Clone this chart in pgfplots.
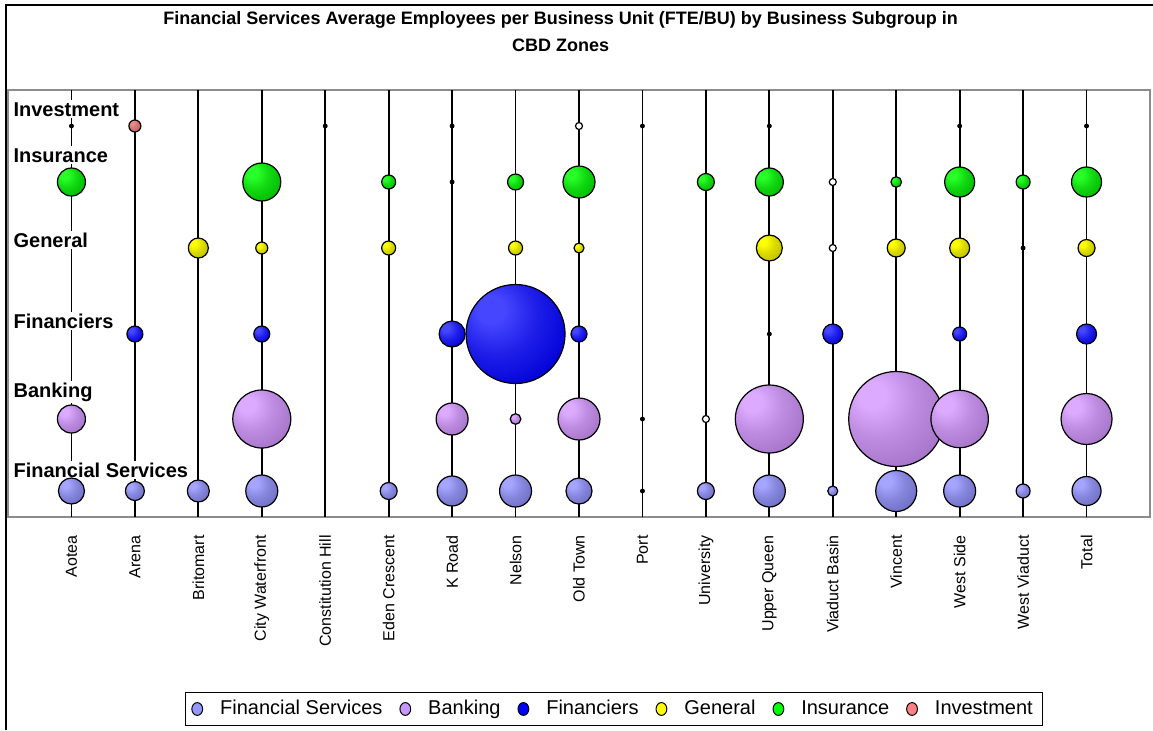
\documentclass[border=0pt]{standalone}
\usepackage{pgfplots}
\usepackage{pgfplotstable}
\pgfplotsset{compat=1.18}
\usepackage{fontspec}
\setmainfont{Liberation Sans}

% bubble colours: highlight / body
\definecolor{fshi}{RGB}{165,165,255}
\definecolor{fslo}{RGB}{110,110,195}
\definecolor{bkhi}{RGB}{220,170,255}
\definecolor{bklo}{RGB}{165,115,200}
\definecolor{fnhi}{RGB}{70,70,255}
\definecolor{fnlo}{RGB}{0,0,215}
\definecolor{gnhi}{RGB}{255,255,0}
\definecolor{gnlo}{RGB}{190,190,0}
\definecolor{inhi}{RGB}{40,255,40}
\definecolor{inlo}{RGB}{0,185,0}
\definecolor{ivhi}{RGB}{235,140,140}
\definecolor{ivlo}{RGB}{190,95,95}
% legend colours
\definecolor{fsleg}{RGB}{150,150,255}
\definecolor{bkleg}{RGB}{200,150,250}
\definecolor{fnleg}{RGB}{0,0,255}
\definecolor{gnleg}{RGB}{255,255,0}
\definecolor{inleg}{RGB}{0,255,0}
\definecolor{ivleg}{RGB}{255,130,130}
\colorlet{bubhi}{fshi}
\colorlet{bublo}{fslo}

\pgfdeclareradialshading[bubhi,bublo]{bubsh}{\pgfpoint{-14bp}{14bp}}{%
  color(0bp)=(bubhi); color(7bp)=(bubhi); color(20bp)=(bubhi!45!bublo);
  color(36bp)=(bublo); color(58bp)=(bublo!82!black); color(70bp)=(bublo!82!black)}

\newcommand\defbub[3]{%
  \pgfdeclareplotmark{#1}{%
    \colorlet{bubhi}{#2}\colorlet{bublo}{#3}%
    \pgfpathcircle{\pgfpointorigin}{\pgfplotmarksize}%
    \pgfshadepath{bubsh}{0}%
    \pgfsetstrokecolor{black}%
    \pgfpathcircle{\pgfpointorigin}{\pgfplotmarksize}%
    \pgfusepathqstroke}}
\defbub{bubFS}{fshi}{fslo}
\defbub{bubBK}{bkhi}{bklo}
\defbub{bubFN}{fnhi}{fnlo}
\defbub{bubGN}{gnhi}{gnlo}
\defbub{bubIN}{inhi}{inlo}
\defbub{bubIV}{ivhi}{ivlo}

% x = zone index, y = row, r = bubble radius
\pgfplotstableread{
x y r
0 26 13
1 26 9.5
2 26 11
3 26 16
5 26 8.5
6 26 15
7 26 16
8 26 13
10 26 8.5
11 26 16
12 26 5
13 26 20.5
14 26 16
15 26 7
16 26 14.5
}\fstab
\pgfplotstableread{
x y r
0 98 14
3 98 29
6 98 16
7 98 5.3
8 98 21
11 98 34
13 98 47.5
14 98 28.7
16 98 25.5
}\bktab
\pgfplotstableread{
x y r
1 183 8
3 183 8
6 183 13
7 183 49.5
8 183 8
12 183 10
14 183 7
16 183 10
}\fntab
\pgfplotstableread{
x y r
2 269 10
3 269 6
5 269 7
7 269 7
8 269 5
11 269 13
13 269 9
14 269 10
16 269 8.5
}\gntab
\pgfplotstableread{
x y r
0 335 14
3 335 19
5 335 7
7 335 8
8 335 16
10 335 8.5
11 335 14
13 335 5.3
14 335 15
15 335 7
16 335 15
}\intab
\pgfplotstableread{
x y r
1 391 6
}\ivtab
\pgfplotstableread{
x y label
-0.95 401 Investment
-0.95 355 Insurance
-0.95 270 General
-0.95 189 Financiers
-0.95 120 Banking
-0.95 40 {Financial Services}
}\rowlabels

\pgfplotsset{
  bubble/.style={scatter, only marks, mark=#1, forget plot, line width=0.6pt,
    point meta min=0, point meta max=50,
    scatter/use mapped color={draw=black, fill=black},
    visualization depends on={\thisrow{r}/2 \as \bubrad},
    scatter/@pre marker code/.append style={/tikz/mark size=\bubrad}},
}

\begin{document}
\begin{tikzpicture}
\useasboundingbox (-4pt,-106.5pt) rectangle (572.5pt,258.5pt);
\begin{axis}[
  scale only axis, width=571pt, height=213.5pt,
  xmin=-1, xmax=17, ymin=0, ymax=427,
  axis line style={draw=black!45, line width=1pt},
  xtick={0,...,16},
  xticklabels={Aotea, Arena, Britomart, City Waterfront, Constitution Hill,
    Eden Crescent, K Road, Nelson, Old Town, Port, University, Upper Queen,
    Viaduct Basin, Vincent, West Side, West Viaduct, Total},
  major tick length=0pt,
  ytick=\empty,
  xticklabel style={rotate=90, anchor=east, inner sep=0pt,
    font=\fontsize{8}{9}\selectfont},
  xticklabel shift=9pt,
  title={Financial Services Average Employees per Business Unit (FTE/BU) by Business Subgroup in\\CBD Zones},
  title style={at={(axis description cs:0.484,1.109)}, anchor=center,
    align=center, font=\fontsize{9}{13.5}\selectfont\bfseries},
  legend columns=6,
  legend style={at={(axis description cs:0.5307,-0.4496)}, anchor=center,
    draw=black, line width=0.6pt, font=\fontsize{10}{12}\selectfont,
    inner ysep=2pt,
    /tikz/every odd column/.append style={column sep=6.5pt},
    /tikz/every even column/.append style={column sep=6.5pt}},
  legend image code/.code={\draw[#1, draw=black, line width=0.5pt]
    (0pt,0pt) ellipse [x radius=2.7pt, y radius=3.2pt];},
]
% zone lines
\addplot[ycomb, black, line width=0.85pt, mark=none, forget plot] coordinates {
  (0,427) (1,427) (2,427) (3,427) (4,427) (5,427) (6,427) (7,427) (8,427)
  (9,427) (10,427) (11,427) (12,427) (13,427) (14,427) (15,427) (16,427)};
% row labels
\addplot[only marks, mark=*, mark size=0pt, mark options={draw=none, fill=none},
  forget plot, point meta=explicit symbolic, nodes near coords,
  every node near coord/.append style={anchor=base west, fill=white,
    inner sep=1pt, text=black, font=\fontsize{10}{12}\selectfont\bfseries}]
  table[x=x, y=y, meta=label] {\rowlabels};
% bubbles
\addplot[bubble=bubFS] table[x=x, y=y] {\fstab};
\addplot[bubble=bubBK] table[x=x, y=y] {\bktab};
\addplot[bubble=bubFN] table[x=x, y=y] {\fntab};
\addplot[bubble=bubGN] table[x=x, y=y] {\gntab};
\addplot[bubble=bubIN] table[x=x, y=y] {\intab};
\addplot[bubble=bubIV] table[x=x, y=y] {\ivtab};
% tiny values
\addplot[only marks, mark=*, mark size=1pt, black, forget plot] coordinates {
  (0,391) (4,391) (6,391) (9,391) (11,391) (14,391) (16,391)
  (6,335) (15,269) (11,183) (9,98) (9,26)};
% hollow markers
\addplot[only marks, mark=*, mark size=1.75pt, forget plot,
  mark options={fill=white, draw=black, line width=0.6pt}] coordinates {
  (8,391) (10,98) (12,335) (12,269)};

\addlegendimage{fill=fsleg}\addlegendentry{Financial Services}
\addlegendimage{fill=bkleg}\addlegendentry{Banking}
\addlegendimage{fill=fnleg}\addlegendentry{Financiers}
\addlegendimage{fill=gnleg}\addlegendentry{General}
\addlegendimage{fill=inleg}\addlegendentry{Insurance}
\addlegendimage{fill=ivleg}\addlegendentry{Investment}
\end{axis}
\draw[line width=1pt] (-1pt,-106.5pt) -- (-1pt,256pt) -- (573pt,256pt);
\end{tikzpicture}
\end{document}
